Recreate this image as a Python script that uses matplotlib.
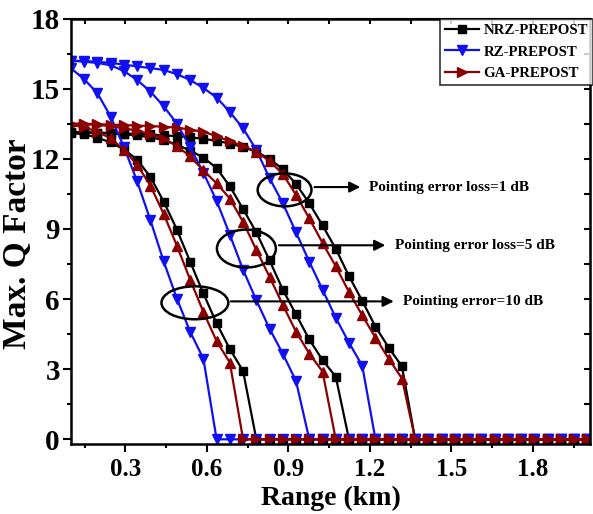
#importing required libraries
import matplotlib.pyplot as plt
from matplotlib.patches import Ellipse
import numpy as np

#range points (km), 40 points from 0.1 to 2.0
x = np.linspace(0.1, 2.0, 40)

#Q factor values (after the last value everything is 0)
nrz_10 = [13.1, 13.05, 12.9, 12.7, 12.4, 11.96, 11.22, 10.17, 8.97, 7.6, 6.24, 4.96, 3.86, 2.92]
rz_10 = [15.87, 15.4, 14.8, 13.8, 12.5, 11.03, 9.37, 7.61, 6.02, 4.6, 3.45]
ga_10 = [13.45, 13.35, 13.15, 12.88, 12.38, 11.74, 10.85, 9.64, 8.28, 6.83, 5.45, 4.2, 3.28]

nrz_5 = [13.15, 13.12, 13.1, 13.08, 13.05, 13.0, 12.92, 12.8, 12.6, 12.35, 12.05, 11.6,
         10.82, 9.85, 8.85, 7.65, 6.4, 5.34, 4.27, 3.39, 2.68]
rz_5 = [16.2, 16.15, 16.1, 16.0, 15.75, 15.37, 14.87, 14.25, 13.5, 12.5, 11.4, 10.2,
        8.75, 7.25, 5.95, 4.73, 3.66, 2.49]
ga_5 = [13.5, 13.48, 13.45, 13.4, 13.3, 13.2, 13.05, 12.85, 12.55, 12.1, 11.5, 10.95,
        10.3, 9.3, 8.1, 6.95, 5.75, 4.6, 3.67, 2.9]

nrz_1 = [13.15, 13.13, 13.12, 13.1, 13.08, 13.06, 13.04, 13.0, 12.97, 12.92, 12.85, 12.77,
         12.65, 12.5, 12.3, 12.0, 11.55, 10.92, 10.1, 9.15, 8.15, 6.98, 5.92, 4.82, 3.92, 3.12]
rz_1 = [16.2, 16.18, 16.15, 16.1, 16.03, 15.95, 15.88, 15.8, 15.62, 15.37, 15.03, 14.62,
        14.0, 13.3, 12.38, 11.17, 10.1, 8.85, 7.6, 6.4, 5.2, 4.13, 3.15]
ga_1 = [13.5, 13.5, 13.48, 13.46, 13.44, 13.42, 13.4, 13.37, 13.33, 13.25, 13.15, 12.97,
        12.75, 12.55, 12.3, 11.9, 11.35, 10.45, 9.45, 8.4, 7.4, 6.3, 5.3, 4.35, 3.45, 2.6]

labels = ['NRZ-PREPOST', 'RZ-PREPOST', 'GA-PREPOST']
annot_texts = ['Pointing error loss=1 dB', 'Pointing error loss=5 dB', 'Pointing error=10 dB']

def full(vals):
    #pad with zeros up to the end of the range
    return np.array(list(vals) + [0.0] * (len(x) - len(vals)))

plt.rcParams['font.family'] = ['Liberation Serif', 'DejaVu Serif']
plt.rcParams['font.weight'] = 'bold'

fig = plt.figure(figsize=(5.93, 5.14), dpi=100)
ax = fig.add_axes([71/593, 1-444/514, 519/593, 425.5/514])

black = 'black'
blue = '#1010f0'
red = '#8b0000'
lw = 1.6
ms = 5.5

#NRZ curves
for i, v in enumerate([nrz_1, nrz_5, nrz_10]):
    ax.plot(x, full(v), color=black, lw=lw, marker='s', ms=ms,
            label=labels[0] if i == 0 else None)

#RZ curves
for i, v in enumerate([rz_1, rz_5, rz_10]):
    ax.plot(x, full(v), color=blue, lw=lw, marker='v', ms=ms+1,
            label=labels[1] if i == 0 else None)

#GA curves, markers point right on flat parts and up on falling parts
for i, v in enumerate([ga_1, ga_5, ga_10]):
    y = full(v)
    ax.plot(x, y, color=red, lw=lw)
    drop = np.abs(np.diff(y, append=y[-1]))
    flat = drop < 0.4
    ax.plot(x[flat], y[flat], ls='none', color=red, marker='>', ms=ms+1)
    ax.plot(x[~flat], y[~flat], ls='none', color=red, marker='^', ms=ms+1)
ax.plot([], [], color=red, lw=lw, marker='>', ms=ms+2, label=labels[2])

#ellipses with arrows and text
ells = [(0.886, 10.67, 0.198, 1.41), (0.7455, 8.16, 0.217, 1.62), (0.556, 5.84, 0.246, 1.41)]
arrows = [(0.986, 1.175, 10.79), (0.855, 1.267, 8.3), (0.678, 1.298, 5.9)]
text_x = [1.196, 1.292, 1.321]
for e, a, tx, t in zip(ells, arrows, text_x, annot_texts):
    ax.add_patch(Ellipse((e[0], e[1]), e[2], e[3], fill=False, ec='black', lw=1.8, zorder=5))
    ax.annotate('', xy=(a[1], a[2]), xytext=(a[0], a[2]),
                arrowprops=dict(arrowstyle='-|>', color='black', lw=1.5, mutation_scale=16))
    ax.text(tx, a[2], t, fontsize=11, fontweight='bold', va='center', ha='left')

#axes limits and ticks
ax.set_xlim(0.1, 2.01)
ax.set_ylim(-0.2, 18)
ax.set_xticks([0.3, 0.6, 0.9, 1.2, 1.5, 1.8])
ax.set_xticks(np.arange(0.15, 2.0, 0.3), minor=True)
ax.set_yticks(np.arange(0, 19, 3))
ax.set_yticks(np.arange(1.5, 18, 3), minor=True)
ax.tick_params(which='both', direction='out', width=1.5)
ax.tick_params(axis='x', labelsize=18, pad=4)
ax.tick_params(axis='y', labelsize=21, pad=2)
ax.tick_params(which='major', length=6)
ax.tick_params(which='minor', length=3)
for s in ax.spines.values():
    s.set_linewidth(1.8)

#ticks on top and right pointing in
axt = ax.secondary_xaxis('top')
axt.set_xticks(ax.get_xticks())
axt.set_xticks(ax.get_xticks(minor=True), minor=True)
axt.tick_params(which='both', direction='in', labeltop=False, width=1.5, length=4)
axr = ax.secondary_yaxis('right')
axr.set_yticks(ax.get_yticks())
axr.set_yticks(ax.get_yticks(minor=True), minor=True)
axr.tick_params(which='both', direction='in', labelright=False, width=1.5, length=4)

ax.set_xlabel('Range (km)', fontsize=20, fontweight='bold')
ax.xaxis.set_label_coords(0.5, -0.098)
ax.set_ylabel('Max. Q Factor', fontsize=24, fontweight='bold')
ax.yaxis.set_label_coords(-0.073, 0.47)

leg = ax.legend(loc='upper right', bbox_to_anchor=(1.006, 1.0), fontsize=10.7, frameon=True,
                fancybox=False, borderaxespad=0, handlelength=2.3, borderpad=0.35,
                labelspacing=0.55, handletextpad=0.3)
leg.get_frame().set_edgecolor('black')
leg.get_frame().set_linewidth(1.2)
for t in leg.get_texts():
    t.set_fontweight('bold')

#saving the generated plot
fig.savefig('out.png', dpi=100)
